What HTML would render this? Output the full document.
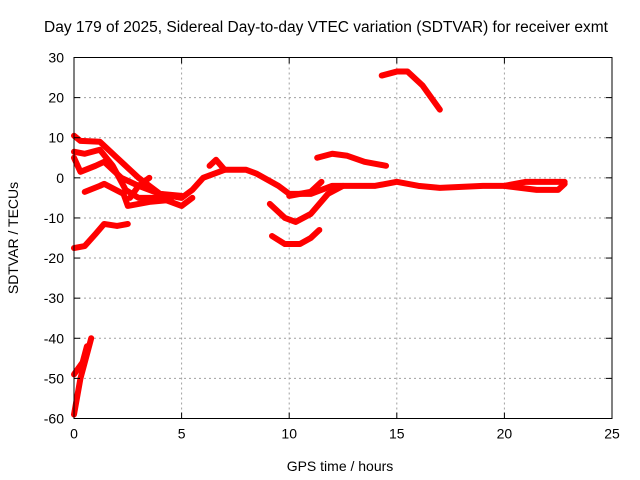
<!DOCTYPE html>
<html><head><meta charset="utf-8"><style>
body{margin:0;background:#fff}
svg{display:block;font-family:"Liberation Sans",sans-serif}
</style></head><body>
<svg id="chart" width="640" height="480" viewBox="0 0 640 480" xmlns="http://www.w3.org/2000/svg">
<rect width="640" height="480" fill="#fff"/>
<text x="326" y="32" font-size="15.5" text-anchor="middle">Day 179 of 2025, Sidereal Day-to-day VTEC variation (SDTVAR) for receiver exmt</text>
<text x="340" y="471" font-size="14" text-anchor="middle">GPS time / hours</text>
<text transform="translate(18,238) rotate(-90)" font-size="14" text-anchor="middle">SDTVAR / TECUs</text>
<g id="grid"></g><g id="series"></g><g id="axes"></g>
</svg>
<script>
const xTicks=[0,5,10,15,20,25];
const yTicks=[30,20,10,0,-10,-20,-30,-40,-50,-60];
const s1=[[0,10.5],[0.3,9.2],[1.2,9],[2,5],[3,0],[4,-4],[5,-5],[5.5,-3],[6,0],[7,2],[8,2],[8.5,1],[9.5,-2],[10,-4],[11,-4],[12,-2],[14,-2],[15,-1],[16,-2],[17,-2.5],[19,-2],[20,-2],[21,-1],[22,-1],[22.8,-1]];
const s2=[[0,6.5],[0.5,6],[1.2,7],[1.8,3],[2.4,-3],[3,-5],[4,-5],[4.5,-6],[5,-7],[5.5,-5]];
const s3=[[0,5],[0.3,1.5],[1,3],[1.4,4],[2.2,0],[3,-2],[4,-4],[5,-4.5]];
const s4=[[0.5,-3.5],[1.2,-2],[1.4,-1.5],[2.3,-4],[2.5,-7],[3.5,-6],[4.5,-5.5]];
const s5=[[2.6,-5],[3,-2],[3.5,0]];
const s6=[[6.3,3],[6.6,4.5],[7,2]];
const s7=[[0,-17.5],[0.5,-17],[1,-14],[1.4,-11.5],[2,-12],[2.5,-11.5]];
const s8=[[0,-59],[0.3,-50],[0.6,-44],[0.8,-40]];
const s9=[[0,-49],[0.4,-46],[0.6,-42]];
const s10=[[9.1,-6.5],[9.8,-10],[10.3,-11],[11,-9],[11.8,-4],[12.5,-2]];
const s11=[[9.2,-14.5],[9.8,-16.5],[10.5,-16.5],[11,-15],[11.4,-13]];
const s12=[[11.3,5],[12,6],[12.7,5.5],[13.5,4],[14,3.5],[14.5,3]];
const s13=[[14.3,25.5],[15,26.5],[15.5,26.5],[16.2,23],[17,17]];
const s14=[[10,-4.5],[11,-3.5],[11.5,-1]];
const s15=[[20,-2],[21.5,-3],[22.5,-3],[22.8,-1.5]];
const allSeries=[s1,s2,s3,s4,s5,s6,s7,s8,s9,s10,s11,s12,s13,s14,s15];
const X0=74,X1=612,Y0=57.5,Y1=418.5;
const xs=v=>X0+(v-0)/(25-0)*(X1-X0);
const ys=v=>Y1-(v+60)/(90)*(Y1-Y0);
const NS="http://www.w3.org/2000/svg";
function mk(t,a,p){const e=document.createElementNS(NS,t);for(const k in a)e.setAttribute(k,a[k]);p.appendChild(e);return e;}
const grid=document.getElementById('grid'),axes=document.getElementById('axes'),ser=document.getElementById('series');
xTicks.forEach(t=>{
 if(t>0&&t<25){const g=mk('line',{x1:xs(t),x2:xs(t),y1:Y0,y2:Y1,stroke:'#a0a0a0','stroke-dasharray':'2,3'},grid);
 
 }
 const l=mk('text',{x:xs(t),y:Y1+20,'font-size':14,'text-anchor':'middle'},axes);l.textContent=t;
 
 
 mk('line',{x1:xs(t),x2:xs(t),y1:Y1,y2:Y1-6,stroke:'#000'},axes);
 mk('line',{x1:xs(t),x2:xs(t),y1:Y0,y2:Y0+6,stroke:'#000'},axes);
});
yTicks.forEach(t=>{
 if(t>-60&&t<30){const g=mk('line',{x1:X0,x2:X1,y1:ys(t),y2:ys(t),stroke:'#a0a0a0','stroke-dasharray':'2,3'},grid);
 
 }
 const l=mk('text',{x:X0-10,y:ys(t)+5,'font-size':14,'text-anchor':'end'},axes);l.textContent=t;
 
 
 mk('line',{x1:X0,x2:X0+6,y1:ys(t),y2:ys(t),stroke:'#000'},axes);
 mk('line',{x1:X1,x2:X1-6,y1:ys(t),y2:ys(t),stroke:'#000'},axes);
});
const fr=mk('rect',{x:X0,y:Y0,width:X1-X0,height:Y1-Y0,fill:'none',stroke:'#000'},axes);


allSeries.forEach((s,i)=>{
 const p=mk('polyline',{points:s.map(d=>xs(d[0])+','+ys(d[1])).join(' '),fill:'none',stroke:'#ff0000','stroke-width':6,'stroke-linejoin':'round','stroke-linecap':'round'},ser);
 
 
});
</script>
</body></html>
